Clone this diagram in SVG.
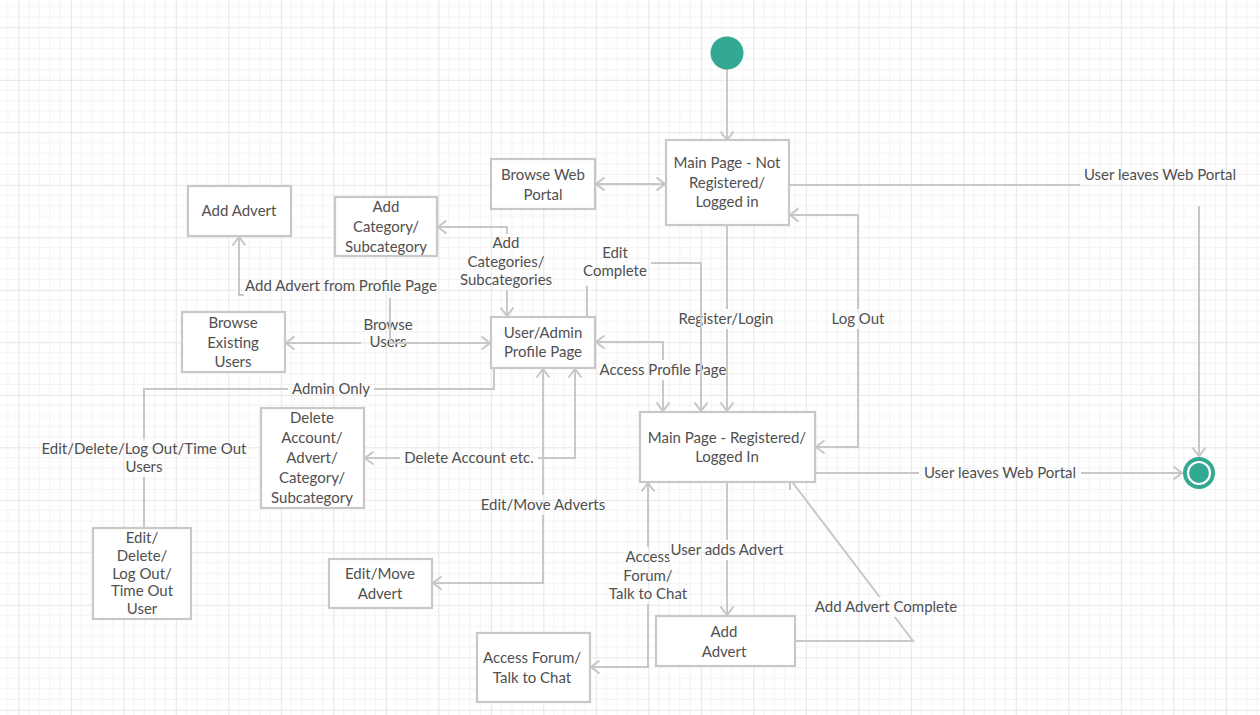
<svg xmlns="http://www.w3.org/2000/svg" width="1260" height="715" viewBox="0 0 1260 715">
<defs>
<pattern id="grid" patternUnits="userSpaceOnUse" x="18.3" y="27.3" width="52.5" height="52.5">
<rect width="52.5" height="52.5" fill="#ffffff"/>
<path d="M10.5,0V52.5M21,0V52.5M31.5,0V52.5M42,0V52.5M0,10.5H52.5M0,21H52.5M0,31.5H52.5M0,42H52.5" stroke="#f3f3f3" stroke-width="1" fill="none"/>
<path d="M0.5,0V52.5M0,0.5H52.5" stroke="#e6e6e6" stroke-width="1" fill="none"/>
</pattern>
<marker id="arr" viewBox="0 0 12 16" refX="10.5" refY="8" markerWidth="12" markerHeight="16" markerUnits="userSpaceOnUse" orient="auto-start-reverse">
<path d="M2,1.5 L10.5,8 L2,14.5" fill="none" stroke="#c6c6c6" stroke-width="2"/>
</marker>
<style>
.box{fill:#ffffff;stroke:#c8c8c8;stroke-width:2.2}
.t{font-family:Lato,"Noto Sans","Liberation Sans",sans-serif;font-size:15px;fill:#505050;text-anchor:middle}
.c{fill:none;stroke:#c8c8c8;stroke-width:2}
.a1{marker-end:url(#arr)}
.a2{marker-start:url(#arr);marker-end:url(#arr)}
.lb{fill:url(#grid)}
.dot{fill:#33a892}
</style>
</defs>
<rect width="1260" height="715" fill="url(#grid)"/>

<g id="connectors">
<g id="c-start">
<path class="c a1" d="M727,69 V140"/>
</g>
<g id="c-browseweb">
<path class="c a2" d="M596,184 H665"/>
</g>
<g id="c-leaves-top">
<path class="c a1" d="M789,185 H1199 V456"/>
<rect class="lb" x="1080" y="162" width="162" height="44"/>
<text class="t" x="1160" y="180">User leaves Web Portal</text>
</g>
<g id="c-logout">
<path class="c a2" d="M816,447 H858 V215 H790"/>
<rect class="lb" x="828" y="309" width="61" height="20"/>
<text class="t" x="858" y="324">Log Out</text>
</g>
<g id="c-leaves-bottom">
<path class="c a1" d="M815,473 H1182"/>
<rect class="lb" x="919" y="463" width="162" height="20"/>
<text class="t" x="1000" y="478">User leaves Web Portal</text>
</g>
<g id="c-access-profile">
<path class="c a2" d="M663,411 V342 H596"/>
<rect class="lb" x="597" y="360" width="130" height="20"/>
<text class="t" x="663" y="375">Access Profile Page</text>
</g>
<g id="c-register">
<path class="c a1" d="M727,225 V411"/>
<rect class="lb" x="675" y="309" width="102" height="20"/>
<text class="t" x="726" y="324">Register/Login</text>
</g>
<g id="c-edit-complete">
<path class="c a1" d="M587,317 V263 H701 V411"/>
<rect class="lb" x="580" y="243" width="71" height="43"/>
<text class="t" x="615" y="258"><tspan x="615">Edit</tspan><tspan x="615" dy="18">Complete</tspan></text>
</g>
<g id="c-add-categories">
<path class="c a2" d="M507,316 V227 H438"/>
<rect class="lb" x="458" y="234" width="98" height="56"/>
<text class="t" x="506" y="248"><tspan x="506">Add</tspan><tspan x="506" dy="18.5">Categories/</tspan><tspan x="506" dy="18.5">Subcategories</tspan></text>
</g>
<g id="c-browse-users">
<path class="c a2" d="M286,343 H490"/>
<rect class="lb" x="361" y="315" width="54" height="37"/>
<text class="t" x="388" y="330"><tspan x="388">Browse</tspan><tspan x="388" dy="17">Users</tspan></text>
</g>
<g id="c-add-advert-profile">
<path class="c a1" d="M491,343 H390 V295 H239 V237"/>
<rect class="lb" x="244" y="276" width="195" height="22"/>
<text class="t" x="341" y="291">Add Advert from Profile Page</text>
</g>
<g id="c-admin-only">
<path class="c" d="M494,368 V389 H144 V528"/>
<rect class="lb" x="288" y="379" width="86" height="20"/>
<text class="t" x="331" y="394">Admin Only</text>
<rect class="lb" x="39" y="439" width="210" height="38"/>
<text class="t" x="144" y="454"><tspan x="144">Edit/Delete/Log Out/Time Out</tspan><tspan x="144" dy="18">Users</tspan></text>
</g>
<g id="c-delete">
<path class="c a2" d="M575,369 V458 H365"/>
<rect class="lb" x="400" y="448" width="138" height="20"/>
<text class="t" x="469" y="463">Delete Account etc.</text>
</g>
<g id="c-edit-move">
<path class="c a2" d="M543,369 V583 H433"/>
<rect class="lb" x="477" y="495" width="132" height="20"/>
<text class="t" x="543" y="510">Edit/Move Adverts</text>
</g>
<g id="c-forum">
<path class="c a2" d="M648,483 V667 H591"/>
<rect class="lb" x="606" y="547" width="85" height="57"/>
<text class="t" x="648" y="562"><tspan x="648">Access</tspan><tspan x="648" dy="18.5">Forum/</tspan><tspan x="648" dy="18.5">Talk to Chat</tspan></text>
</g>
<g id="c-user-adds">
<path class="c a1" d="M727,482 V615"/>
<rect class="lb" x="669" y="540" width="118" height="20"/>
<text class="t" x="727" y="555">User adds Advert</text>
</g>
<g id="c-add-complete">
<path class="c a1" d="M795,641 H913 L790,479"/>
<rect class="lb" x="812" y="597" width="149" height="20"/>
<text class="t" x="886" y="612">Add Advert Complete</text>
</g>
</g>

<g id="start"><circle class="dot" cx="727" cy="53" r="16.5"/></g>
<g id="end">
<circle class="dot" cx="1199" cy="473" r="16"/>
<circle cx="1199" cy="473" r="11" fill="none" stroke="#ffffff" stroke-width="2.2"/>
</g>

<g id="main-not">
<rect class="box" x="666" y="140" width="123" height="85"/>
<text class="t" x="727" y="168"><tspan x="727">Main Page - Not</tspan><tspan x="727" dy="19.5">Registered/</tspan><tspan x="727" dy="19.5">Logged in</tspan></text>
</g>
<g id="browse-web">
<rect class="box" x="491" y="159" width="104" height="50"/>
<text class="t" x="543" y="180"><tspan x="543">Browse Web</tspan><tspan x="543" dy="20">Portal</tspan></text>
</g>
<g id="add-advert-top">
<rect class="box" x="188" y="186" width="103" height="50"/>
<text class="t" x="239" y="216">Add Advert</text>
</g>
<g id="add-category">
<rect class="box" x="335" y="197" width="102" height="59"/>
<text class="t" x="386" y="212"><tspan x="386">Add</tspan><tspan x="386" dy="20">Category/</tspan><tspan x="386" dy="20">Subcategory</tspan></text>
</g>
<g id="profile">
<rect class="box" x="491" y="317" width="104" height="51"/>
<text class="t" x="543" y="338"><tspan x="543">User/Admin</tspan><tspan x="543" dy="19">Profile Page</tspan></text>
</g>
<g id="browse-users">
<rect class="box" x="182" y="312" width="103" height="60"/>
<text class="t" x="233" y="328"><tspan x="233">Browse</tspan><tspan x="233" dy="19.5">Existing</tspan><tspan x="233" dy="19.5">Users</tspan></text>
</g>
<g id="main-reg">
<rect class="box" x="640" y="412" width="175" height="70"/>
<text class="t" x="727" y="443"><tspan x="727">Main Page - Registered/</tspan><tspan x="727" dy="19">Logged In</tspan></text>
</g>
<g id="delete">
<rect class="box" x="261" y="408" width="103" height="100"/>
<text class="t" x="312" y="423"><tspan x="312">Delete</tspan><tspan x="312" dy="20">Account/</tspan><tspan x="312" dy="20">Advert/</tspan><tspan x="312" dy="20">Category/</tspan><tspan x="312" dy="20">Subcategory</tspan></text>
</g>
<g id="edit-move">
<rect class="box" x="329" y="559" width="103" height="49"/>
<text class="t" x="380" y="579"><tspan x="380">Edit/Move</tspan><tspan x="380" dy="20">Advert</tspan></text>
</g>
<g id="edit-delete-user">
<rect class="box" x="93" y="528" width="98" height="91"/>
<text class="t" x="142" y="543"><tspan x="142">Edit/</tspan><tspan x="142" dy="17.8">Delete/</tspan><tspan x="142" dy="17.8">Log Out/</tspan><tspan x="142" dy="17.8">Time Out</tspan><tspan x="142" dy="17.8">User</tspan></text>
</g>
<g id="forum">
<rect class="box" x="477" y="633" width="113" height="69"/>
<text class="t" x="532" y="663"><tspan x="532">Access Forum/</tspan><tspan x="532" dy="20">Talk to Chat</tspan></text>
</g>
<g id="add-advert-bottom">
<rect class="box" x="656" y="616" width="139" height="50"/>
<text class="t" x="724" y="637"><tspan x="724">Add</tspan><tspan x="724" dy="20">Advert</tspan></text>
</g>
</svg>
